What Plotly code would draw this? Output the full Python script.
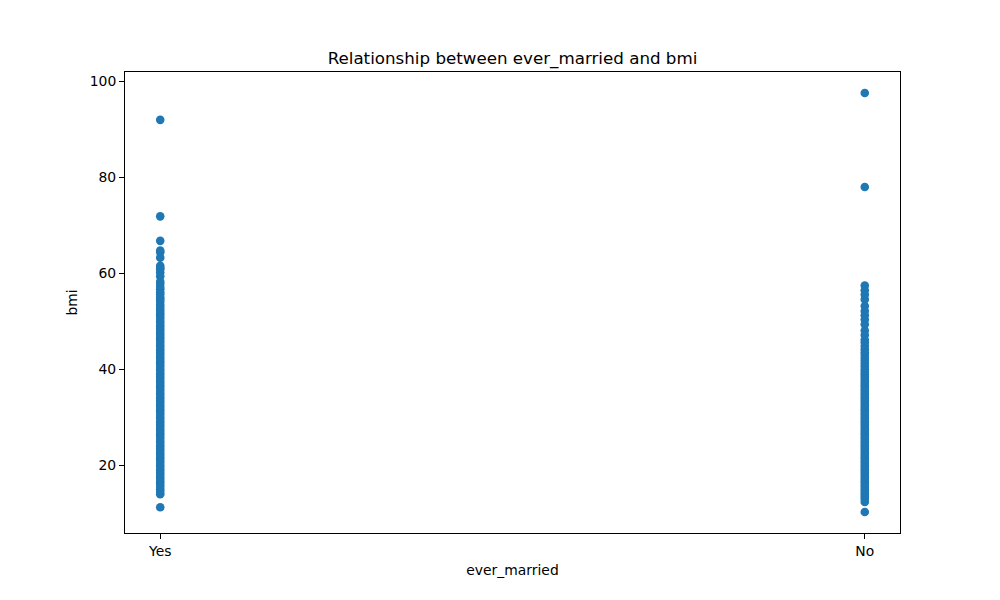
import plotly.graph_objects as go

categories = ["Yes", "No"]

bmi_yes = [92.0, 71.9, 66.8, 64.8, 64.4, 63.3, 61.6, 61.2, 60.9, 60.2, 59.4,
           58.3, 57.8, 57.2, 56.7, 56.1, 55.6, 55.0, 54.6, 54.1, 53.5, 53.0,
           52.5, 52.0, 51.5, 51.0, 50.5, 50.0, 49.5, 49.0, 48.5, 48.0, 47.5,
           47.0, 46.5, 46.0, 45.5, 45.0, 44.5, 44.0, 43.5, 43.0, 42.5, 42.0,
           41.5, 41.0, 40.5, 40.0, 39.5, 39.0, 38.5, 38.0, 37.5, 37.0, 36.5,
           36.0, 35.5, 35.0, 34.5, 34.0, 33.5, 33.0, 32.5, 32.0, 31.5, 31.0,
           30.5, 30.0, 29.5, 29.0, 28.5, 28.0, 27.5, 27.0, 26.5, 26.0, 25.5,
           25.0, 24.5, 24.0, 23.5, 23.0, 22.5, 22.0, 21.5, 21.0, 20.5, 20.0,
           19.5, 19.0, 18.5, 18.0, 17.5, 17.0, 16.5, 16.0, 15.5, 15.0, 14.5,
           14.0, 11.3]

bmi_no = [97.6, 78.0, 57.5, 56.5, 55.6, 54.6, 53.2, 52.2, 51.3, 50.4, 49.4,
          48.1, 47.2, 46.2, 45.6, 44.9, 44.2, 43.6, 43.0, 42.4, 41.8, 41.2,
          40.6, 40.0, 39.5, 39.0, 38.5, 38.0, 37.5, 37.0, 36.5, 36.0, 35.5,
          35.0, 34.5, 34.0, 33.5, 33.0, 32.5, 32.0, 31.5, 31.0, 30.5, 30.0,
          29.5, 29.0, 28.5, 28.0, 27.5, 27.0, 26.5, 26.0, 25.5, 25.0, 24.5,
          24.0, 23.5, 23.0, 22.5, 22.0, 21.5, 21.0, 20.5, 20.0, 19.5, 19.0,
          18.5, 18.0, 17.5, 17.0, 16.5, 16.0, 15.5, 15.0, 14.5, 14.0, 13.5,
          13.0, 12.4, 10.3]

y_ticks = [20, 40, 60, 80, 100]

x_vals = [categories[0]] * len(bmi_yes) + [categories[1]] * len(bmi_no)
y_vals = bmi_yes + bmi_no

fig = go.Figure()
fig.add_trace(go.Scatter(
    x=x_vals, y=y_vals, mode="markers",
    marker=dict(color="#1f77b4", size=8.6, line=dict(width=0)),
    showlegend=False, hoverinfo="x+y",
))

font_family = "DejaVu Sans, sans-serif"
fig.update_layout(
    width=1000, height=600,
    paper_bgcolor="white", plot_bgcolor="white",
    margin=dict(l=125, r=100, t=72, b=67),
    font=dict(family=font_family, size=13.9, color="black"),
    title=dict(text="Relationship between ever_married and bmi",
               x=0.5125, xanchor="center", y=0.903, yanchor="middle",
               font=dict(size=16.7, color="black")),
)
fig.update_xaxes(
    type="category", categoryorder="array", categoryarray=categories,
    range=[-0.05, 1.05],
    showline=True, linecolor="black", linewidth=1, mirror=True,
    ticks="outside", ticklen=5, tickcolor="black", tickwidth=1,
    showgrid=False, zeroline=False,
    tickfont=dict(size=13.9),
    title=dict(text="ever_married", font=dict(size=13.9), standoff=7),
)
fig.update_yaxes(
    range=[5.94, 101.97],
    tickvals=y_ticks, ticktext=[str(t) for t in y_ticks],
    showline=True, linecolor="black", linewidth=1, mirror=True,
    ticks="outside", ticklen=5, tickcolor="black", tickwidth=1,
    showgrid=False, zeroline=False,
    tickfont=dict(size=13.9),
    title=dict(text="bmi", font=dict(size=13.9), standoff=8),
)

fig.write_html("out.html")
